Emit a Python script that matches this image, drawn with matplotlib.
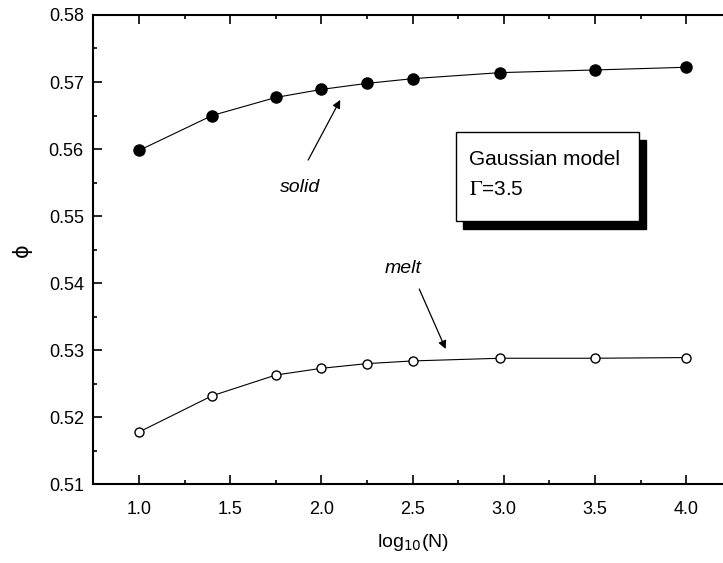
import matplotlib
matplotlib.use('Agg')
import matplotlib.pyplot as plt
from matplotlib.patches import Rectangle
from matplotlib.ticker import MultipleLocator

plt.rcParams['font.family'] = ['Liberation Sans', 'DejaVu Sans']
plt.rcParams['mathtext.fontset'] = 'stix'

# log10(N) values and packing fractions
log_n = [1.0, 1.4, 1.75, 2.0, 2.25, 2.5, 2.98, 3.5, 4.0]
phi_solid = [0.5598, 0.5650, 0.5677, 0.5689, 0.5698, 0.5705, 0.5714, 0.5718, 0.5722]
phi_melt = [0.5178, 0.5232, 0.5263, 0.5273, 0.5280, 0.5284, 0.5288, 0.5288, 0.5289]
x_ticks = [1.0, 1.5, 2.0, 2.5, 3.0, 3.5, 4.0]
y_ticks = [0.51, 0.52, 0.53, 0.54, 0.55, 0.56, 0.57, 0.58]

fig = plt.figure(figsize=(7.23, 5.63), dpi=100)
ax = fig.add_axes([0.1293, 0.1398, 0.883, 0.8336])

ax.plot(log_n, phi_solid, '-o', color='black', lw=0.8, ms=8,
        mfc='black', mec='black')
ax.plot(log_n, phi_melt, '-o', color='black', lw=0.8, ms=6.5,
        mfc='white', mec='black', mew=1.0)

ax.set_xlim(0.75, 4.25)
ax.set_ylim(0.51, 0.58)
ax.set_xticks(x_ticks)
ax.set_yticks(y_ticks)
ax.xaxis.set_minor_locator(MultipleLocator(0.25))
ax.yaxis.set_minor_locator(MultipleLocator(0.005))
ax.set_xticklabels(['%.1f' % v for v in x_ticks])
ax.set_yticklabels(['%.2f' % v for v in y_ticks])
ax.tick_params(which='both', direction='in', top=True, right=True,
               labelsize=13, width=1.2, pad=7)
ax.tick_params(axis='x', which='major', pad=12)
ax.tick_params(which='major', length=6.5)
ax.tick_params(which='minor', length=3.2)
for s in ax.spines.values():
    s.set_linewidth(1.5)

ax.set_xlabel('log$_{10}$(N)', fontsize=14, labelpad=10,
              math_fontfamily='dejavusans')
ax.set_ylabel('\u03d5', fontsize=15, labelpad=12, family='DejaVu Sans')

# annotations
ax.annotate('', xy=(2.11, 0.5677), xytext=(1.92, 0.5580),
            arrowprops=dict(arrowstyle='-|>', color='black', lw=0.9,
                            mutation_scale=12))
ax.text(1.88, 0.5542, 'solid', style='italic', fontsize=14,
        ha='center', va='center')
ax.annotate('', xy=(2.687, 0.5298), xytext=(2.53, 0.5395),
            arrowprops=dict(arrowstyle='-|>', color='black', lw=0.9,
                            mutation_scale=12))
ax.text(2.45, 0.5422, 'melt', style='italic', fontsize=14,
        ha='center', va='center')

# boxed label with drop shadow
bx, by, bw, bh = 2.739, 0.54927, 1.004, 0.01328
ax.add_patch(Rectangle((bx + 0.038, by - 0.0012), bw, bh, facecolor='black',
                       edgecolor='black', zorder=4))
ax.add_patch(Rectangle((bx, by), bw, bh, facecolor='white',
                       edgecolor='black', lw=1.0, zorder=5))
ax.text(2.81, 0.5584, 'Gaussian model', fontsize=15, va='center', zorder=6)
ax.text(2.81, 0.5539, '$\\Gamma$=3.5', fontsize=15, va='center', zorder=6)

fig.savefig('out.png', dpi=100)
